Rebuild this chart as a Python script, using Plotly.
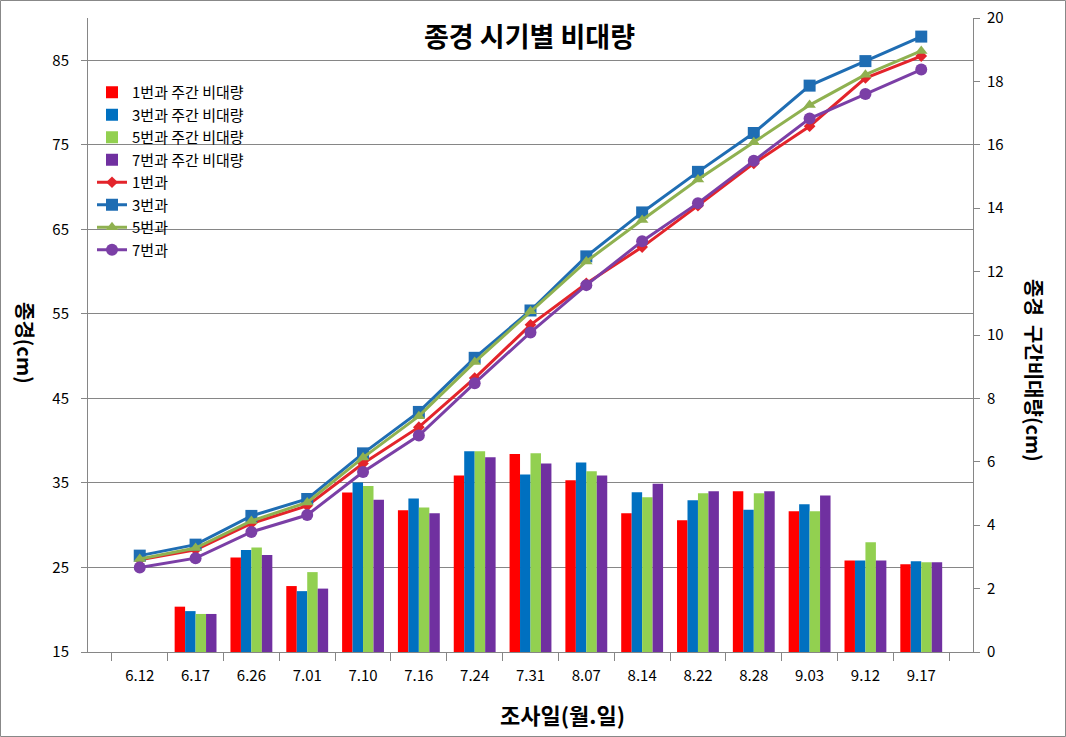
import plotly.graph_objects as go

dates = ["6.12", "6.17", "6.26", "7.01", "7.10", "7.16", "7.24", "7.31",
         "8.07", "8.14", "8.22", "8.28", "9.03", "9.12", "9.17"]

# 종경 (cm) - left axis lines
fruit1 = [25.9, 27.1, 30.2, 32.3, 37.3, 41.6, 47.4, 53.7, 58.6, 62.9, 67.8, 72.8, 77.2, 82.9, 85.5]
fruit3 = [26.4, 27.7, 31.1, 33.1, 38.5, 43.4, 49.8, 55.4, 61.8, 67.0, 71.8, 76.4, 82.0, 84.9, 87.8]
fruit5 = [26.0, 27.3, 30.5, 32.7, 38.0, 42.9, 49.3, 55.3, 61.2, 66.1, 70.9, 75.3, 79.7, 83.3, 86.1]
fruit7 = [25.0, 26.1, 29.2, 31.2, 36.3, 40.6, 46.8, 52.8, 58.4, 63.6, 68.1, 73.1, 78.1, 81.0, 83.9]

# 주간 비대량 (cm) - right axis bars
gain1 = [None, 1.43, 2.98, 2.08, 5.03, 4.47, 5.57, 6.25, 5.42, 4.38, 4.16, 5.07, 4.44, 2.89, 2.77]
gain3 = [None, 1.29, 3.22, 1.92, 5.35, 4.84, 6.33, 5.60, 5.98, 5.04, 4.79, 4.49, 4.66, 2.89, 2.86]
gain5 = [None, 1.20, 3.30, 2.52, 5.24, 4.56, 6.33, 6.27, 5.70, 4.88, 5.01, 5.01, 4.44, 3.46, 2.83]
gain7 = [None, 1.20, 3.06, 2.00, 4.80, 4.38, 6.14, 5.95, 5.57, 5.31, 5.07, 5.07, 4.94, 2.89, 2.83]

bar_names = ["1번과 주간 비대량", "3번과 주간 비대량", "5번과 주간 비대량", "7번과 주간 비대량"]
line_names = ["1번과", "3번과", "5번과", "7번과"]
bar_colors = ["#FF0000", "#0070C0", "#92D050", "#7030A0"]
line_colors = ["#E3242B", "#1F6DB3", "#8FB150", "#7B3FA6"]
symbols = ["diamond", "square", "triangle-up", "circle"]
sizes = [9, 12, 11, 12]

FONT = "Noto Sans CJK KR"

fig = go.Figure()
for name, vals, col in zip(bar_names, [gain1, gain3, gain5, gain7], bar_colors):
    fig.add_trace(go.Bar(x=dates, y=vals, name=name, marker_color=col,
                         marker_line_width=0, yaxis="y2"))
for name, vals, col, sym, sz in zip(line_names, [fruit1, fruit3, fruit5, fruit7],
                                    line_colors, symbols, sizes):
    fig.add_trace(go.Scatter(x=dates, y=vals, name=name, mode="lines+markers",
                             line=dict(color=col, width=3),
                             marker=dict(symbol=sym, size=sz, color=col),
                             yaxis="y"))

W, H = 1066, 737
ml, mr, mt, mb = 88, 93, 18, 85
pw, ph = W - ml - mr, H - mt - mb

def px_x(x):
    return (x - ml) / pw

def px_y(y):
    return (H - mb - y) / ph

def ann(text, x, y, size, angle=0):
    return dict(text=text, x=px_x(x), y=px_y(y), xref="paper", yref="paper",
                xanchor="center", yanchor="middle", showarrow=False, textangle=angle,
                font=dict(size=size, family=FONT, color="#000000"))

fig.update_layout(
    width=W, height=H,
    margin=dict(l=ml, r=mr, t=mt, b=mb, autoexpand=False),
    paper_bgcolor="white", plot_bgcolor="white",
    font=dict(family=FONT, size=14, color="#000000"),
    barmode="group", bargap=0.25, bargroupgap=0,
    showlegend=True,
    legend=dict(x=px_x(92), y=px_y(76), xanchor="left", yanchor="top",
                bgcolor="rgba(255,255,255,0)", font=dict(size=15, family=FONT),
                tracegroupgap=0, itemwidth=30),
    xaxis=dict(type="category", showgrid=False, showline=True, linecolor="#868686",
               ticks="outside", tickson="boundaries", ticklen=8, tickcolor="#868686",
               ticklabelstandoff=10,
               tickfont=dict(size=15, family=FONT)),
    yaxis=dict(range=[15, 90], tick0=15, dtick=10, showgrid=True, gridcolor="#868686",
               gridwidth=1, showline=True, linecolor="#868686", ticks="outside",
               ticklen=6, tickcolor="#868686", zeroline=False, ticklabelstandoff=9,
               tickfont=dict(size=15, family=FONT)),
    yaxis2=dict(range=[0, 20], dtick=2, overlaying="y", side="right", showgrid=False,
                showline=True, linecolor="#868686", ticks="outside", ticklen=6,
                tickcolor="#868686", zeroline=False, ticklabelstandoff=4,
                tickfont=dict(size=15, family=FONT)),
    annotations=[
        ann("<b>종경 시기별 비대량</b>", 529, 35, 27),
        ann("<b>조사일(월.일)</b>", 562, 714, 22),
        ann("<b>종경(cm)</b>", 25, 343, 20, 90),
        ann("<b>종경  구간비대량(cm)</b>", 1035, 370, 20, 90),
    ],
    shapes=[
        dict(type="rect", xref="paper", yref="paper",
             x0=px_x(0.5), x1=px_x(W - 0.5), y0=px_y(H - 0.5), y1=px_y(0.5),
             line=dict(color="#888888", width=1), fillcolor="rgba(0,0,0,0)", layer="below"),
    ],
)

fig.write_html("out.html", config={"displayModeBar": False},
               post_script="document.body.style.margin='0';document.body.style.overflow='hidden';")
